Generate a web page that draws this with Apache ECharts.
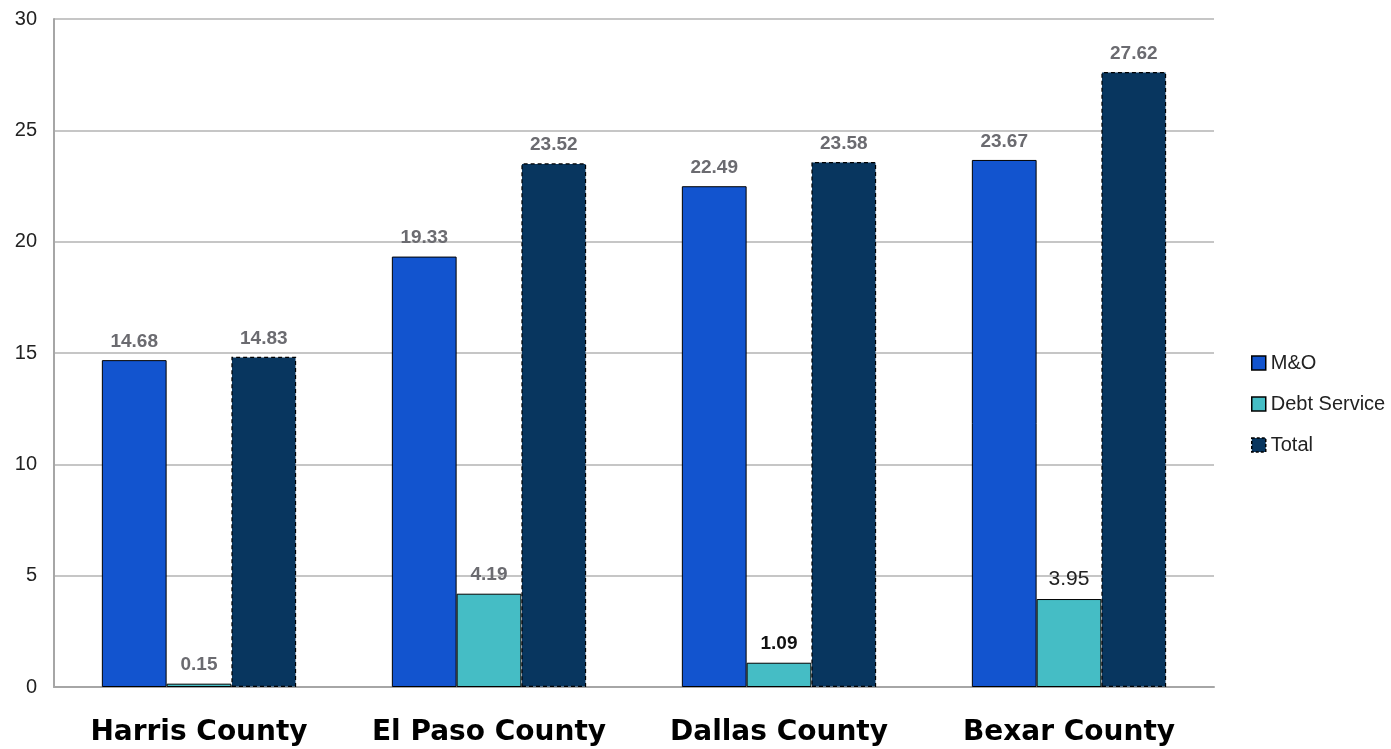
<!DOCTYPE html>
<html>
<head>
<meta charset="utf-8">
<script src="https://cdn.jsdelivr.net/npm/echarts@6/dist/echarts.min.js"></script>
<style>html,body{margin:0;padding:0;background:#fff}#c{width:1391px;height:749px}</style>
</head>
<body>
<div id="c"></div>
<script>
var categories = ['Harris County', 'El Paso County', 'Dallas County', 'Bexar County'];
var seriesNames = ['M&O', 'Debt Service', 'Total'];
var mo = [14.68, 19.33, 22.49, 23.67];
var debt = [0.15, 4.19, 1.09, 3.95];
var total = [14.83, 23.52, 23.58, 27.62];
var yTicks = [0, 5, 10, 15, 20, 25, 30];

var greyLabel = {show: true, position: 'top', distance: 9, color: '#6b6b70', fontWeight: 'bold', fontSize: 19, fontFamily: 'Liberation Sans', formatter: function (p) { return p.value.toFixed(2); }};
function debtData() {
  return debt.map(function (v, i) {
    var item = {value: v};
    if (i === 2) item.label = {color: '#111', fontWeight: 'bold'};
    if (i === 3) item.label = {color: '#222', fontWeight: 'normal', fontSize: 21};
    return item;
  });
}

var chart = echarts.init(document.getElementById('c'));
chart.setOption({
  animation: false,
  textStyle: {fontFamily: 'Liberation Sans'},
  grid: {left: 54, right: 177, top: 19, bottom: 62, containLabel: false},
  legend: {
    orient: 'vertical', left: 1246, top: 348, itemWidth: 14, itemHeight: 14, itemGap: 21,
    textStyle: {fontSize: 20, color: '#222', fontFamily: 'Liberation Sans'},
    data: [
      {name: seriesNames[0], icon: 'rect', itemStyle: {borderColor: '#000', borderWidth: 1.5}},
      {name: seriesNames[1], icon: 'rect', itemStyle: {borderColor: '#000', borderWidth: 1.5}},
      {name: seriesNames[2], icon: 'rect', itemStyle: {borderColor: '#000', borderWidth: 1.5, borderType: [3, 2]}}
    ]
  },
  xAxis: {
    type: 'category', data: categories,
    axisLine: {lineStyle: {color: '#a6a6a6', width: 2}},
    axisTick: {show: false},
    axisLabel: {interval: 0, hideOverlap: false, fontSize: 28, fontWeight: 'bold', color: '#000', margin: 32, fontFamily: 'DejaVu Sans'}
  },
  yAxis: {
    type: 'value', min: yTicks[0], max: yTicks[yTicks.length - 1], interval: 5,
    axisLine: {show: true, lineStyle: {color: '#a6a6a6', width: 2}},
    axisTick: {show: false},
    splitLine: {lineStyle: {color: '#b3b3b3', width: 1.5}},
    axisLabel: {fontSize: 20, color: '#222', margin: 17, fontFamily: 'Liberation Sans'}
  },
  series: [
    {name: seriesNames[0], type: 'bar', data: mo, barGap: '0%', barCategoryGap: '33%',
     itemStyle: {color: '#1254cf', borderColor: '#000', borderWidth: 1}, label: greyLabel},
    {name: seriesNames[1], type: 'bar', data: debtData(), barGap: '0%', barCategoryGap: '33%',
     itemStyle: {color: '#45bdc5', borderColor: '#000', borderWidth: 1}, label: greyLabel},
    {name: seriesNames[2], type: 'bar', data: total, barGap: '0%', barCategoryGap: '33%',
     itemStyle: {color: '#08365f', borderColor: '#000', borderWidth: 1.2, borderType: [4, 3]}, label: greyLabel}
  ]
});
</script>
</body>
</html>
